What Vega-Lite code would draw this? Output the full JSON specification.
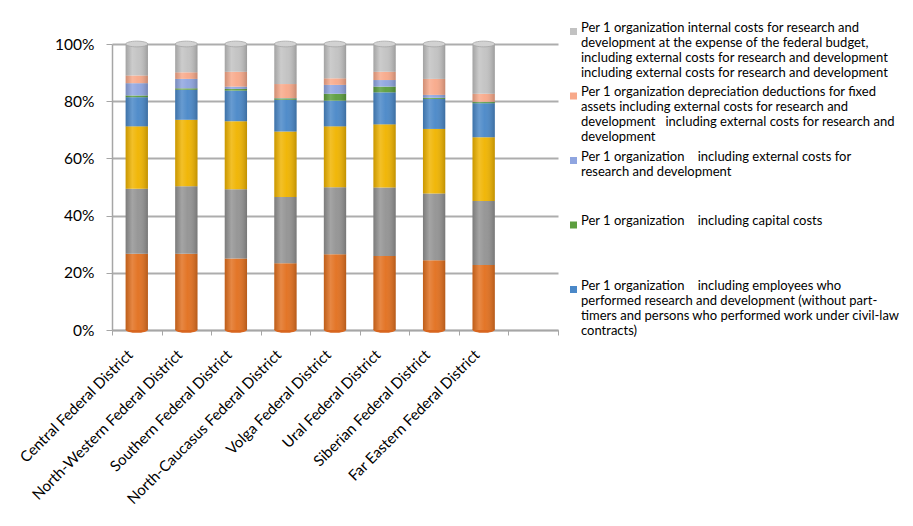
{
  "$schema": "https://vega.github.io/schema/vega-lite/v6.json",
  "autosize": {"type": "none"},
  "width": 446,
  "height": 286,
  "padding": {"left": 112, "top": 44, "right": 355, "bottom": 196},
  "background": "white",
  "config": {
    "view": {"stroke": null},
    "font": "Lato",
    "axis": {"labelFont": "Lato", "labelColor": "#000000", "domainColor": "#a6a6a6", "tickColor": "#a6a6a6", "gridColor": "#adadad"},
    "legend": {"labelFont": "Lato"}
  },
  "datasets": {
    "series": [
      {"s": "s1", "idx": 1, "name": "Per 1 organization internal costs for research and development"},
      {"s": "s2", "idx": 2, "name": "Per 1 organization    including labour costs"},
      {"s": "s3", "idx": 3, "name": "Per 1 organization    including other current costs"},
      {"s": "s4", "idx": 4, "name": "Per 1 organization\u00a0\u00a0\u00a0 including employees who\nperformed research and development (without part-\ntimers and persons who performed work under civil-law\ncontracts)"},
      {"s": "s5", "idx": 5, "name": "Per 1 organization\u00a0\u00a0\u00a0 including capital costs"},
      {"s": "s6", "idx": 6, "name": "Per 1 organization\u00a0\u00a0\u00a0 including external costs for\nresearch and development"},
      {"s": "s7", "idx": 7, "name": "Per 1 organization depreciation deductions for fixed\nassets including external costs for research and\ndevelopment\u00a0\u00a0 including external costs for research and\ndevelopment"},
      {"s": "s8", "idx": 8, "name": "Per 1 organization internal costs for research and\ndevelopment at the expense of the federal budget,\nincluding external costs for research and development\nincluding external costs for research and development"}
    ],
    "districts": [
      {"district": "Central Federal District", "top": 100},
      {"district": "North-Western Federal District", "top": 100},
      {"district": "Southern Federal District", "top": 100},
      {"district": "North-Caucasus Federal District", "top": 100},
      {"district": "Volga Federal District", "top": 100},
      {"district": "Ural Federal District", "top": 100},
      {"district": "Siberian Federal District", "top": 100},
      {"district": "Far Eastern Federal District", "top": 100}
    ],
    "rows": [
      {"district": "Central Federal District", "s": "s1", "value": 26.7},
      {"district": "Central Federal District", "s": "s2", "value": 22.7},
      {"district": "Central Federal District", "s": "s3", "value": 21.8},
      {"district": "Central Federal District", "s": "s4", "value": 10.2},
      {"district": "Central Federal District", "s": "s5", "value": 0.6},
      {"district": "Central Federal District", "s": "s6", "value": 4.3},
      {"district": "Central Federal District", "s": "s7", "value": 2.7},
      {"district": "Central Federal District", "s": "s8", "value": 11.0},
      {"district": "North-Western Federal District", "s": "s1", "value": 26.7},
      {"district": "North-Western Federal District", "s": "s2", "value": 23.6},
      {"district": "North-Western Federal District", "s": "s3", "value": 23.2},
      {"district": "North-Western Federal District", "s": "s4", "value": 10.5},
      {"district": "North-Western Federal District", "s": "s5", "value": 0.5},
      {"district": "North-Western Federal District", "s": "s6", "value": 3.3},
      {"district": "North-Western Federal District", "s": "s7", "value": 2.3},
      {"district": "North-Western Federal District", "s": "s8", "value": 9.9},
      {"district": "Southern Federal District", "s": "s1", "value": 25.0},
      {"district": "Southern Federal District", "s": "s2", "value": 24.2},
      {"district": "Southern Federal District", "s": "s3", "value": 23.8},
      {"district": "Southern Federal District", "s": "s4", "value": 10.7},
      {"district": "Southern Federal District", "s": "s5", "value": 0.6},
      {"district": "Southern Federal District", "s": "s6", "value": 0.8},
      {"district": "Southern Federal District", "s": "s7", "value": 5.2},
      {"district": "Southern Federal District", "s": "s8", "value": 9.7},
      {"district": "North-Caucasus Federal District", "s": "s1", "value": 23.3},
      {"district": "North-Caucasus Federal District", "s": "s2", "value": 23.2},
      {"district": "North-Caucasus Federal District", "s": "s3", "value": 22.9},
      {"district": "North-Caucasus Federal District", "s": "s4", "value": 11.1},
      {"district": "North-Caucasus Federal District", "s": "s5", "value": 0.5},
      {"district": "North-Caucasus Federal District", "s": "s6", "value": 0.1},
      {"district": "North-Caucasus Federal District", "s": "s7", "value": 4.9},
      {"district": "North-Caucasus Federal District", "s": "s8", "value": 14.0},
      {"district": "Volga Federal District", "s": "s1", "value": 26.5},
      {"district": "Volga Federal District", "s": "s2", "value": 23.4},
      {"district": "Volga Federal District", "s": "s3", "value": 21.3},
      {"district": "Volga Federal District", "s": "s4", "value": 9.0},
      {"district": "Volga Federal District", "s": "s5", "value": 2.4},
      {"district": "Volga Federal District", "s": "s6", "value": 3.1},
      {"district": "Volga Federal District", "s": "s7", "value": 2.3},
      {"district": "Volga Federal District", "s": "s8", "value": 12.0},
      {"district": "Ural Federal District", "s": "s1", "value": 25.9},
      {"district": "Ural Federal District", "s": "s2", "value": 23.9},
      {"district": "Ural Federal District", "s": "s3", "value": 22.1},
      {"district": "Ural Federal District", "s": "s4", "value": 11.2},
      {"district": "Ural Federal District", "s": "s5", "value": 2.0},
      {"district": "Ural Federal District", "s": "s6", "value": 2.3},
      {"district": "Ural Federal District", "s": "s7", "value": 2.9},
      {"district": "Ural Federal District", "s": "s8", "value": 9.7},
      {"district": "Siberian Federal District", "s": "s1", "value": 24.4},
      {"district": "Siberian Federal District", "s": "s2", "value": 23.3},
      {"district": "Siberian Federal District", "s": "s3", "value": 22.6},
      {"district": "Siberian Federal District", "s": "s4", "value": 10.5},
      {"district": "Siberian Federal District", "s": "s5", "value": 0.4},
      {"district": "Siberian Federal District", "s": "s6", "value": 1.0},
      {"district": "Siberian Federal District", "s": "s7", "value": 5.6},
      {"district": "Siberian Federal District", "s": "s8", "value": 12.2},
      {"district": "Far Eastern Federal District", "s": "s1", "value": 22.7},
      {"district": "Far Eastern Federal District", "s": "s2", "value": 22.4},
      {"district": "Far Eastern Federal District", "s": "s3", "value": 22.3},
      {"district": "Far Eastern Federal District", "s": "s4", "value": 11.9},
      {"district": "Far Eastern Federal District", "s": "s5", "value": 0.4},
      {"district": "Far Eastern Federal District", "s": "s6", "value": 0.1},
      {"district": "Far Eastern Federal District", "s": "s7", "value": 2.8},
      {"district": "Far Eastern Federal District", "s": "s8", "value": 17.4}
    ]
  },
  "encoding": {
    "x": {
      "field": "district",
      "type": "nominal",
      "sort": null,
      "scale": {
        "domain": ["Central Federal District", "North-Western Federal District", "Southern Federal District", "North-Caucasus Federal District", "Volga Federal District", "Ural Federal District", "Siberian Federal District", "Far Eastern Federal District", " "],
        "paddingInner": 0,
        "paddingOuter": 0
      },
      "axis": {
        "title": null,
        "labelAngle": -45,
        "labelFontSize": 15,
        "labelPadding": 12,
        "labelOffset": -12,
        "tickBand": "extent",
        "tickSize": 5,
        "domainWidth": 1.5,
        "labelLimit": 300
      }
    }
  },
  "layer": [
    {
      "data": {"name": "districts"},
      "mark": {"type": "point", "shape": "M-1,0A1,0.26,0,1,0,1,0A1,0.26,0,1,0,-1,0Z", "size": 484, "filled": true, "opacity": 1, "color": "#d8661f"},
      "encoding": {
        "y": {"datum": 0, "type": "quantitative"}
      }
    },
    {
      "data": {"name": "rows"},
      "transform": [
        {"lookup": "s", "from": {"data": {"name": "series"}, "key": "s", "fields": ["name", "idx"]}}
      ],
      "mark": {"type": "bar", "width": {"band": 0.45}},
      "encoding": {
        "y": {
          "field": "value",
          "type": "quantitative",
          "stack": "zero",
          "scale": {"domain": [0, 100], "nice": false},
          "axis": {
            "title": null,
            "values": [0, 10, 20, 30, 40, 50, 60, 70, 80, 90, 100],
            "labelExpr": "datum.value + '%'",
            "labelOverlap": false,
            "labelFontSize": 15.5,
            "labelPadding": 12,
            "tickSize": 6,
            "grid": true,
            "gridWidth": 2,
            "domainWidth": 1.5
          }
        },
        "order": {"field": "idx", "type": "quantitative", "sort": "ascending"},
        "color": {
          "field": "name",
          "type": "nominal",
          "sort": null,
          "scale": {
            "domain": [
              "Per 1 organization internal costs for research and development",
              "Per 1 organization    including labour costs",
              "Per 1 organization    including other current costs",
              "Per 1 organization\u00a0\u00a0\u00a0 including employees who\nperformed research and development (without part-\ntimers and persons who performed work under civil-law\ncontracts)",
              "Per 1 organization\u00a0\u00a0\u00a0 including capital costs",
              "Per 1 organization\u00a0\u00a0\u00a0 including external costs for\nresearch and development",
              "Per 1 organization depreciation deductions for fixed\nassets including external costs for research and\ndevelopment\u00a0\u00a0 including external costs for research and\ndevelopment",
              "Per 1 organization internal costs for research and\ndevelopment at the expense of the federal budget,\nincluding external costs for research and development\nincluding external costs for research and development"
            ],
            "range": ["#e2701f", "#939393", "#f0b400", "#4a88c8", "#5c9e3e", "#8fa5e0", "#f8a98a", "#c2c2c2"]
          },
          "legend": {
            "title": null,
            "orient": "none",
            "legendX": 455,
            "legendY": -19,
            "values": [
              "Per 1 organization internal costs for research and\ndevelopment at the expense of the federal budget,\nincluding external costs for research and development\nincluding external costs for research and development",
              "Per 1 organization depreciation deductions for fixed\nassets including external costs for research and\ndevelopment\u00a0\u00a0 including external costs for research and\ndevelopment",
              "Per 1 organization\u00a0\u00a0\u00a0 including external costs for\nresearch and development",
              "Per 1 organization\u00a0\u00a0\u00a0 including capital costs",
              "Per 1 organization\u00a0\u00a0\u00a0 including employees who\nperformed research and development (without part-\ntimers and persons who performed work under civil-law\ncontracts)"
            ],
            "labelExpr": "split(datum.label, '\\n')",
            "labelFontSize": 13,
            "labelLineHeight": 17,
            "labelBaseline": "alphabetic",
            "labelLimit": 400,
            "labelOffset": 1,
            "symbolType": "square",
            "symbolSize": 49,
            "symbolStrokeWidth": 0,
            "gridAlign": "all",
            "rowPadding": 5.5,
            "padding": 0
          }
        }
      }
    },
    {
      "data": {"name": "districts"},
      "mark": {
        "type": "bar",
        "width": {"band": 0.45},
        "fill": {
          "gradient": "linear",
          "x1": 0, "x2": 1, "y1": 0, "y2": 0,
          "stops": [
            {"offset": 0, "color": "rgba(0,0,0,0.16)"},
            {"offset": 0.3, "color": "rgba(255,255,255,0.16)"},
            {"offset": 0.55, "color": "rgba(255,255,255,0.04)"},
            {"offset": 1, "color": "rgba(0,0,0,0.2)"}
          ]
        }
      },
      "encoding": {
        "y": {"field": "top", "type": "quantitative"}
      }
    },
    {
      "data": {"name": "districts"},
      "mark": {"type": "point", "shape": "M-1,0A1,0.26,0,1,0,1,0A1,0.26,0,1,0,-1,0Z", "size": 484, "filled": true, "opacity": 1, "color": "#d2d2d2", "stroke": "#a5a5a5", "strokeWidth": 0.8},
      "encoding": {
        "y": {"field": "top", "type": "quantitative"}
      }
    }
  ]
}
